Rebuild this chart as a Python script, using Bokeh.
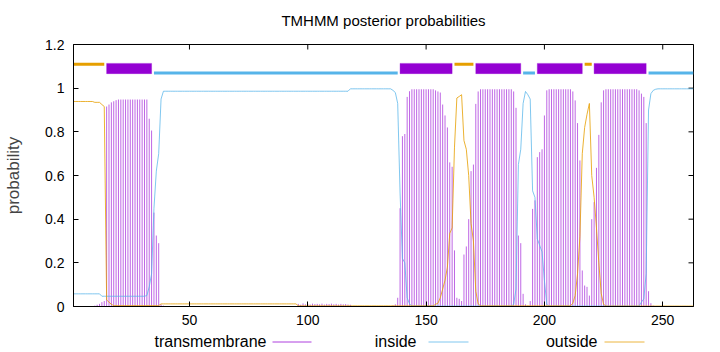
import math
from bokeh.plotting import figure
from bokeh.models import ColumnDataSource, FixedTicker, Range1d
from bokeh.layouts import column
from bokeh.embed import file_html
from bokeh.resources import INLINE
from bokeh.core.properties import value

FONT = "Liberation Sans"

# posterior probability of transmembrane per residue (1..263)
T = [
    0, 0, 0, 0, 0, 0, 0, 0, 0, 0.004,
    0.008, 0.012, 0.02, 0.025, 0.916, 0.925, 0.935, 0.94, 0.945, 0.948,
    0.948, 0.948, 0.948, 0.948, 0.948, 0.948, 0.948, 0.948, 0.948, 0.948,
    0.948, 0.948, 0.86, 0.806, 0.43, 0.325, 0.29, 0.01, 0.004, 0.001,
    0.001, 0.001, 0.001, 0.001, 0.001, 0.001, 0.001, 0.001, 0.001, 0.001,
    0.001, 0.001, 0.001, 0.001, 0.001, 0.001, 0.001, 0.001, 0.001, 0.001,
    0.001, 0.001, 0.001, 0.001, 0.001, 0.001, 0.001, 0.001, 0.001, 0.001,
    0.001, 0.001, 0.001, 0.001, 0.001, 0.001, 0.001, 0.001, 0.001, 0.001,
    0.001, 0.001, 0.001, 0.001, 0.001, 0.001, 0.001, 0.001, 0.001, 0.001,
    0.001, 0.001, 0.001, 0.001, 0.001, 0.012, 0.008, 0.014, 0.01, 0.012,
    0.009, 0.013, 0.011, 0.012, 0.01, 0.013, 0.009, 0.012, 0.011, 0.013,
    0.01, 0.012, 0.009, 0.012, 0.01, 0.011, 0.009, 0.008, 0.001, 0.001,
    0.001, 0.001, 0.001, 0.001, 0.001, 0.001, 0.001, 0.001, 0.001, 0.001,
    0.001, 0.001, 0.001, 0.001, 0.001, 0.005, 0.01, 0.04, 0.45, 0.78,
    0.79, 0.96, 0.986, 0.995, 0.995, 0.995, 0.995, 0.995, 0.995, 0.995,
    0.995, 0.995, 0.995, 0.99, 0.985, 0.98, 0.925, 0.875, 0.82, 0.66,
    0.64, 0.257, 0.04, 0.035, 0.025, 0.238, 0.275, 0.4, 0.62, 0.65,
    0.928, 0.985, 0.995, 0.995, 0.995, 0.995, 0.995, 0.995, 0.995, 0.995,
    0.995, 0.995, 0.995, 0.995, 0.995, 0.995, 0.985, 0.91, 0.325, 0.29,
    0.058, 0.01, 0.005, 0.025, 0.447, 0.486, 0.684, 0.707, 0.72, 0.875,
    0.99, 0.995, 0.995, 0.995, 0.995, 0.995, 0.995, 0.995, 0.995, 0.995,
    0.995, 0.985, 0.944, 0.84, 0.669, 0.165, 0.096, 0.09, 0.05, 0.4,
    0.478, 0.635, 0.786, 0.935, 0.99, 0.995, 0.995, 0.995, 0.995, 0.995,
    0.995, 0.995, 0.995, 0.995, 0.995, 0.995, 0.995, 0.995, 0.995, 0.99,
    0.975, 0.96, 0.84, 0.07, 0.015, 0.004, 0.001, 0.001, 0.001, 0.001,
    0.001, 0.001, 0.001, 0.001, 0.001, 0.001, 0.001, 0.001, 0.001, 0.001,
    0.001, 0.001, 0.001,
]

# posterior probability of "inside"
I = [
    0.058, 0.058, 0.058, 0.058, 0.058, 0.058, 0.058, 0.058, 0.058, 0.058,
    0.058, 0.058, 0.047, 0.047, 0.047, 0.047, 0.047, 0.047, 0.047, 0.047,
    0.047, 0.047, 0.047, 0.047, 0.047, 0.047, 0.047, 0.047, 0.047, 0.047,
    0.047, 0.05, 0.09, 0.15, 0.45, 0.62, 0.7, 0.95, 0.986, 0.986,
    0.986, 0.986, 0.986, 0.986, 0.986, 0.986, 0.986, 0.986, 0.986, 0.986,
    0.986, 0.986, 0.986, 0.986, 0.986, 0.986, 0.986, 0.986, 0.986, 0.986,
    0.986, 0.986, 0.986, 0.986, 0.986, 0.986, 0.986, 0.986, 0.986, 0.986,
    0.986, 0.986, 0.986, 0.986, 0.986, 0.986, 0.986, 0.986, 0.986, 0.986,
    0.986, 0.986, 0.986, 0.986, 0.986, 0.986, 0.986, 0.986, 0.986, 0.986,
    0.986, 0.986, 0.986, 0.986, 0.986, 0.986, 0.986, 0.986, 0.986, 0.986,
    0.986, 0.986, 0.986, 0.986, 0.986, 0.986, 0.986, 0.986, 0.986, 0.986,
    0.986, 0.986, 0.986, 0.986, 0.986, 0.986, 0.986, 0.997, 0.997, 0.997,
    0.997, 0.997, 0.997, 0.997, 0.997, 0.997, 0.997, 0.997, 0.997, 0.997,
    0.997, 0.997, 0.997, 0.997, 0.997, 0.99, 0.98, 0.93, 0.52, 0.22,
    0.2, 0.04, 0.012, 0.002, 0.002, 0.002, 0.002, 0.002, 0.002, 0.002,
    0.002, 0.002, 0.002, 0.002, 0.002, 0.002, 0.002, 0.002, 0.002, 0.002,
    0.002, 0.002, 0.002, 0.002, 0.002, 0.002, 0.002, 0.002, 0.002, 0.002,
    0.002, 0.002, 0.002, 0.002, 0.002, 0.002, 0.002, 0.002, 0.002, 0.002,
    0.002, 0.002, 0.002, 0.002, 0.002, 0.002, 0.01, 0.08, 0.65, 0.72,
    0.93, 0.985, 0.97, 0.95, 0.53, 0.5, 0.31, 0.28, 0.25, 0.12,
    0.01, 0.002, 0.002, 0.002, 0.002, 0.002, 0.002, 0.002, 0.002, 0.002,
    0.002, 0.002, 0.002, 0.002, 0.002, 0.002, 0.002, 0.002, 0.002, 0.002,
    0.002, 0.002, 0.002, 0.002, 0.002, 0.002, 0.002, 0.002, 0.002, 0.002,
    0.002, 0.002, 0.002, 0.002, 0.002, 0.002, 0.002, 0.002, 0.002, 0.002,
    0.02, 0.035, 0.15, 0.9, 0.975, 0.99, 0.995, 0.997, 0.997, 0.997,
    0.997, 0.997, 0.997, 0.997, 0.997, 0.997, 0.997, 0.997, 0.997, 0.997,
    0.997, 0.997, 0.997,
]

# posterior probability of "outside"
O = [
    0.939, 0.939, 0.939, 0.939, 0.939, 0.939, 0.939, 0.939, 0.939, 0.935,
    0.935, 0.935, 0.925, 0.916, 0.03, 0.02, 0.01, 0.004, 0.004, 0.004,
    0.004, 0.004, 0.004, 0.004, 0.004, 0.004, 0.004, 0.004, 0.004, 0.004,
    0.004, 0.004, 0.004, 0.004, 0.004, 0.004, 0.004, 0.012, 0.012, 0.012,
    0.012, 0.012, 0.012, 0.012, 0.012, 0.012, 0.012, 0.012, 0.012, 0.012,
    0.012, 0.012, 0.012, 0.012, 0.012, 0.012, 0.012, 0.012, 0.012, 0.012,
    0.012, 0.012, 0.012, 0.012, 0.012, 0.012, 0.012, 0.012, 0.012, 0.012,
    0.012, 0.012, 0.012, 0.012, 0.012, 0.012, 0.012, 0.012, 0.012, 0.012,
    0.012, 0.012, 0.012, 0.012, 0.012, 0.012, 0.012, 0.012, 0.012, 0.012,
    0.012, 0.012, 0.012, 0.012, 0.012, 0.003, 0.003, 0.003, 0.003, 0.003,
    0.003, 0.003, 0.003, 0.003, 0.003, 0.003, 0.003, 0.003, 0.003, 0.003,
    0.003, 0.003, 0.003, 0.003, 0.003, 0.003, 0.003, 0.003, 0.003, 0.003,
    0.003, 0.003, 0.003, 0.003, 0.003, 0.003, 0.003, 0.003, 0.003, 0.003,
    0.003, 0.003, 0.003, 0.003, 0.003, 0.003, 0.003, 0.003, 0.003, 0.003,
    0.003, 0.003, 0.003, 0.003, 0.003, 0.003, 0.003, 0.003, 0.003, 0.003,
    0.003, 0.003, 0.003, 0.01, 0.015, 0.04, 0.08, 0.12, 0.18, 0.335,
    0.36, 0.73, 0.955, 0.962, 0.97, 0.76, 0.72, 0.6, 0.38, 0.3,
    0.07, 0.012, 0.003, 0.003, 0.003, 0.003, 0.003, 0.003, 0.003, 0.003,
    0.003, 0.003, 0.003, 0.003, 0.003, 0.003, 0.003, 0.003, 0.003, 0.003,
    0.003, 0.003, 0.003, 0.003, 0.003, 0.003, 0.003, 0.003, 0.003, 0.003,
    0.003, 0.003, 0.003, 0.003, 0.003, 0.003, 0.003, 0.003, 0.003, 0.003,
    0.003, 0.015, 0.05, 0.15, 0.32, 0.7, 0.82, 0.88, 0.93, 0.6,
    0.5, 0.36, 0.2, 0.06, 0.01, 0.002, 0.002, 0.002, 0.002, 0.002,
    0.002, 0.002, 0.002, 0.002, 0.002, 0.002, 0.002, 0.002, 0.002, 0.002,
    0.002, 0.002, 0.002, 0.002, 0.002, 0.002, 0.002, 0.002, 0.002, 0.002,
    0.002, 0.002, 0.002, 0.002, 0.002, 0.002, 0.002, 0.002, 0.002, 0.002,
    0.002, 0.002, 0.002,
]

# predicted topology (top strip)
top_start = [1, 15, 35, 139, 162, 171, 191, 197, 217, 221, 244]
top_end = [14, 34, 138, 161, 170, 190, 196, 216, 220, 243, 263]
top_kind = ["outside", "TMhelix", "inside", "TMhelix", "outside", "TMhelix",
            "inside", "TMhelix", "outside", "TMhelix", "inside"]

x_ticks = [50, 100, 150, 200, 250]
y_ticks = [0, 0.2, 0.4, 0.6, 0.8, 1.0, 1.2]
y_tick_labels = ["0", "0.2", "0.4", "0.6", "0.8", "1", "1.2"]
legend_labels = ["transmembrane", "inside", "outside"]
title_text = "TMHMM posterior probabilities"

TM_COLOR = "#9400D3"
IN_COLOR = "#56B4E9"
OUT_COLOR = "#E69F00"

n = len(T)
X0, X1 = 1, n
Y0, Y1 = 0, 1.2
src_t = ColumnDataSource(dict(r=list(range(1, len(T) + 1)), v=T))
src_i = ColumnDataSource(dict(r=list(range(1, len(I) + 1)), v=I))
src_o = ColumnDataSource(dict(r=list(range(1, len(O) + 1)), v=O))

# ---- title strip (window pixels 0..30) ----
tt = figure(width=720, height=30, x_range=Range1d(73, 693), y_range=Range1d(0, 30),
            output_backend="svg", toolbar_location=None,
            x_axis_location=None, y_axis_location=None,
            min_border_left=73, min_border_right=27, min_border_top=0, min_border_bottom=0)
tt.grid.visible = False
tt.outline_line_color = None
tt.text(x=[383], y=[10], text=[title_text], text_align="center", text_baseline="middle",
        text_font=value(FONT), text_font_size="15px", text_color="#000000")

# ---- main plot (window pixels 30..330, frame 44..306) ----
p = figure(width=720, height=300, x_range=Range1d(X0, X1), y_range=Range1d(Y0, Y1),
           output_backend="svg", toolbar_location=None,
           min_border_left=73, min_border_right=27, min_border_top=14, min_border_bottom=24)
p.grid.visible = False
p.outline_line_color = "#000000"
p.outline_line_width = 1
p.background_fill_color = "white"
p.border_fill_color = "white"

for ax in p.xaxis + p.yaxis:
    ax.major_label_text_font = FONT
    ax.major_label_text_font_size = "14px"
    ax.major_label_text_color = "#000000"
    ax.major_tick_in = 5
    ax.major_tick_out = 0
    ax.minor_tick_line_color = None
    ax.axis_line_color = "#000000"
    ax.major_tick_line_color = "#000000"

p.xaxis.ticker = FixedTicker(ticks=x_ticks)
p.xaxis.major_label_standoff = 8
p.yaxis.ticker = FixedTicker(ticks=y_ticks)
p.yaxis.major_label_overrides = {t: l for t, l in zip(y_ticks, y_tick_labels)}
p.yaxis.major_label_standoff = 9
p.yaxis.axis_label = "probability"
p.yaxis.axis_label_text_font = FONT
p.yaxis.axis_label_text_font_size = "17px"
p.yaxis.axis_label_text_font_style = "normal"
p.yaxis.axis_label_standoff = 19

# mirror tick marks on the right and top border (half of each dash is clipped by the frame)
p.scatter(x=[X1] * len(y_ticks), y=y_ticks, marker="dash", size=10,
          line_color="#000000", line_width=1)
p.scatter(x=x_ticks, y=[Y1] * len(x_ticks), marker="dash", angle=math.pi / 2, size=10,
          line_color="#000000", line_width=1)

# impulses (transmembrane)
p.segment(x0="r", y0=0, x1="r", y1="v", source=src_t,
          line_color=TM_COLOR, line_alpha=0.6, line_width=1)
# inside / outside lines
p.line("r", "v", source=src_i, line_color=IN_COLOR, line_alpha=0.75, line_width=1)
p.line("r", "v", source=src_o, line_color=OUT_COLOR, line_alpha=0.8, line_width=1)

# topology strip
tm_l = [s for s, k in zip(top_start, top_kind) if k == "TMhelix"]
tm_r = [e for e, k in zip(top_end, top_kind) if k == "TMhelix"]
p.quad(left=tm_l, right=tm_r, bottom=1.0665, top=1.1135,
       fill_color=TM_COLOR, line_color=TM_COLOR, line_alpha=0.35, line_width=1)
out_s = [s for s, k in zip(top_start, top_kind) if k == "outside"]
out_e = [e for e, k in zip(top_end, top_kind) if k == "outside"]
p.segment(x0=out_s, y0=1.11, x1=out_e, y1=1.11, line_color=OUT_COLOR, line_width=3)
in_s = [s for s, k in zip(top_start, top_kind) if k == "inside"]
in_e = [e for e, k in zip(top_end, top_kind) if k == "inside"]
p.segment(x0=in_s, y0=1.07, x1=in_e, y1=1.07, line_color=IN_COLOR, line_width=3)

# ---- legend strip (gnuplot style: text then sample; window pixels 330..352) ----
lg = figure(width=720, height=22, x_range=Range1d(73, 693), y_range=Range1d(0, 22),
            output_backend="svg", toolbar_location=None,
            x_axis_location=None, y_axis_location=None,
            min_border_left=73, min_border_right=27, min_border_top=0, min_border_bottom=0)
lg.grid.visible = False
lg.outline_line_color = None
text_right = [266, 416, 597]
sample_x0 = [272, 428, 604]
sample_x1 = [311, 468, 644]
lg.text(x=text_right, y=[11, 11, 11], text=legend_labels,
        text_align="right", text_baseline="middle",
        text_font=value(FONT), text_font_size="16px", text_color="#000000")
lg.line(x=[sample_x0[0], sample_x1[0]], y=[10.5, 10.5], line_color=TM_COLOR,
        line_alpha=0.75, line_width=1)
lg.line(x=[sample_x0[1], sample_x1[1]], y=[10.5, 10.5], line_color=IN_COLOR,
        line_alpha=0.75, line_width=1)
lg.line(x=[sample_x0[2], sample_x1[2]], y=[10.5, 10.5], line_color=OUT_COLOR,
        line_alpha=0.75, line_width=1)

layout = column(tt, p, lg, spacing=0)
open("out.html", "w").write(file_html(layout, INLINE))
